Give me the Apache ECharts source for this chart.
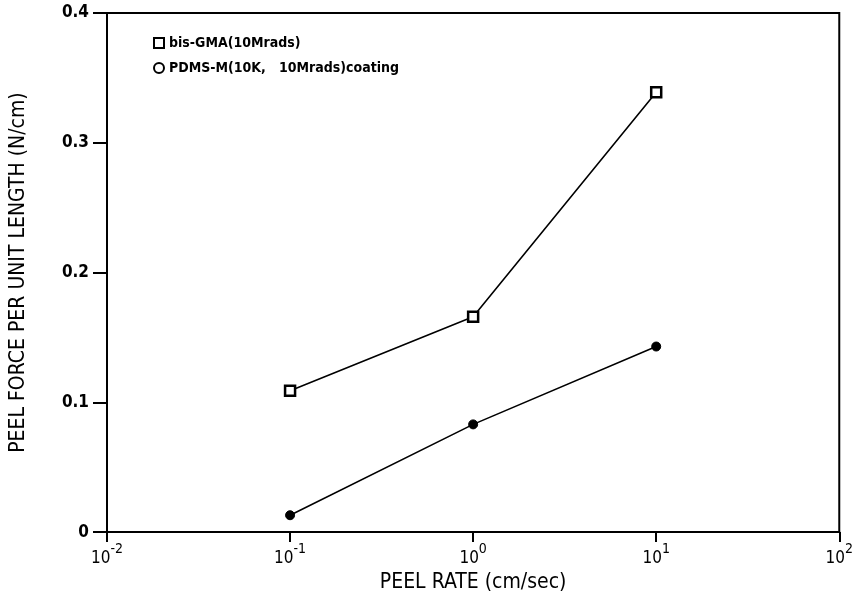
<!DOCTYPE html>
<html>
<head>
<meta charset="utf-8">
<script src="https://cdn.jsdelivr.net/npm/echarts@6/dist/echarts.min.js"></script>
<style>
  html, body { margin: 0; padding: 0; background: #fff; }
  #chart { width: 856px; height: 598px; }
</style>
</head>
<body>
<div id="chart"></div>
<script>
const peelRates = [0.1, 1, 10];
const bisGma = [0.109, 0.166, 0.339];
const pdms = [0.013, 0.083, 0.143];
const yTicks = ['0', '0.1', '0.2', '0.3', '0.4'];
const xExponents = { 0.01: '-2', 0.1: '-1', 1: '0', 10: '1', 100: '2' };

const font = '"DejaVu Sans Condensed", "DejaVu Sans", sans-serif';
const chart = echarts.init(document.getElementById('chart'));

const pairs = (ys) => peelRates.map((x, i) => [x, ys[i]]);

chart.setOption({
  animation: false,
  backgroundColor: '#fff',
  textStyle: { fontFamily: font, color: '#000' },
  grid: { left: 103, right: 6, top: 13, bottom: 56, show: true, borderColor: '#000', borderWidth: 2 },
  legend: {
    orient: 'vertical',
    left: 148,
    top: 31,
    itemGap: 11,
    itemWidth: 10,
    itemHeight: 10,
    textStyle: { fontFamily: font, fontSize: 14, fontWeight: 'bold', color: '#000' },
    data: [
      { name: 'bis-GMA(10Mrads)', icon: 'rect', itemStyle: { color: '#fff', borderColor: '#000', borderWidth: 2 } },
      { name: 'PDMS-M(10K,   10Mrads)coating', icon: 'circle', itemStyle: { color: '#fff', borderColor: '#000', borderWidth: 2 } }
    ]
  },
  xAxis: {
    type: 'log',
    logBase: 10,
    min: 0.01,
    max: 100,
    name: 'PEEL RATE (cm/sec)',
    nameLocation: 'middle',
    nameGap: 36,
    nameTextStyle: { fontSize: 21, fontFamily: font, color: '#000' },
    axisLine: { lineStyle: { color: '#000', width: 2 } },
    axisTick: { inside: false, length: 10, lineStyle: { color: '#000', width: 2 } },
    minorTick: { show: false },
    splitLine: { show: false },
    axisLabel: {
      margin: 10,
      formatter: (v) => '{b|10}{s|' + (xExponents[v] || '') + '}',
      rich: {
        b: { fontSize: 17, fontFamily: font, color: '#000', padding: [8, 0, 0, 0] },
        s: { fontSize: 14, fontFamily: font, color: '#000', verticalAlign: 'top', padding: [0, 0, 8, 0] }
      }
    }
  },
  yAxis: {
    type: 'value',
    min: 0,
    max: 0.4,
    interval: 0.1,
    name: 'PEEL FORCE PER UNIT LENGTH (N/cm)',
    nameLocation: 'middle',
    nameGap: 78,
    nameTextStyle: { fontSize: 21, fontFamily: font, color: '#000' },
    axisLine: { show: true, lineStyle: { color: '#000', width: 2 } },
    axisTick: { show: true, length: 14, lineStyle: { color: '#000', width: 2 } },
    splitLine: { show: false },
    axisLabel: {
      margin: 18,
      fontSize: 17,
      fontWeight: 'bold',
      color: '#000',
      formatter: (v) => yTicks[Math.round(v * 10)]
    }
  },
  series: [
    {
      name: 'bis-GMA(10Mrads)',
      type: 'line',
      data: pairs(bisGma),
      symbol: 'rect',
      symbolSize: 10,
      lineStyle: { color: '#000', width: 1.6 },
      itemStyle: { color: '#fff', borderColor: '#000', borderWidth: 2.5 }
    },
    {
      name: 'PDMS-M(10K,   10Mrads)coating',
      type: 'line',
      data: pairs(pdms),
      symbol: 'circle',
      symbolSize: 9,
      lineStyle: { color: '#000', width: 1.6 },
      itemStyle: { color: '#000', borderColor: '#000' }
    }
  ]
});
</script>
</body>
</html>
